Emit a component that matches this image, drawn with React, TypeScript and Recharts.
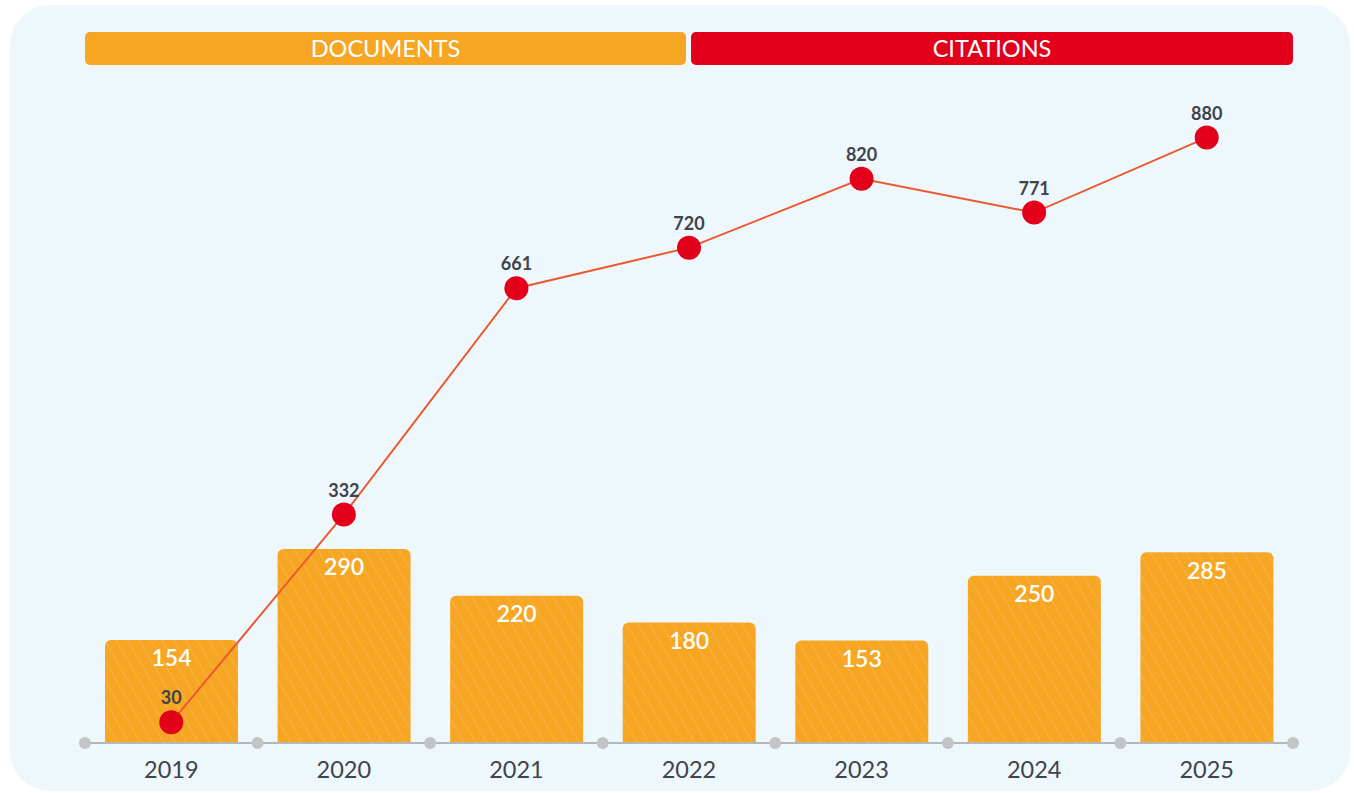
import React from "react";
import {
  ComposedChart,
  Bar,
  Line,
  XAxis,
  YAxis,
  LabelList,
} from "recharts";

const years = ["2019", "2020", "2021", "2022", "2023", "2024", "2025"];
const documents = [154, 290, 220, 180, 153, 250, 285];
const citations = [30, 332, 661, 720, 820, 771, 880];
const headerLabels = ["DOCUMENTS", "CITATIONS"];

const ORANGE = "#F6A623";
const RED = "#E2001A";
const LINE = "#EA5A2E";
const TEXT = "#3E444A";
const FONT = "Lato, 'Open Sans', sans-serif";
const TICK_MARGIN = 18;

const data = years.map((y, i) => ({
  year: y,
  documents: documents[i],
  citations: citations[i],
}));

function YearTick(props: any) {
  const { x, y, payload, index } = props;
  const half = payload && payload.offset ? payload.offset : 0;
  const lineY = y - TICK_MARGIN;
  const last = index === years.length - 1;
  return (
    <g>
      <circle cx={x - half} cy={lineY} r={6} fill="#C2C4C6" />
      {last && <circle cx={x + half} cy={lineY} r={6} fill="#C2C4C6" />}
      <text
        x={x}
        y={y}
        dy="0.71em"
        textAnchor="middle"
        fill={TEXT}
        fontSize={23.5}
        fontFamily={FONT}
      >
        {payload.value}
      </text>
    </g>
  );
}

export default function App() {
  return (
    <div
      style={{
        position: "absolute",
        left: 0,
        top: 0,
        width: 1354,
        height: 793,
        background: "#ffffff",
        overflow: "hidden",
        fontFamily: FONT,
      }}
    >
      <div
        style={{
          position: "absolute",
          left: 10,
          top: 5,
          width: 1340,
          height: 786,
          borderRadius: 40,
          background: "#EEF7FC",
        }}
      />
      <div
        style={{
          position: "absolute",
          left: 85,
          top: 32,
          width: 601,
          height: 33,
          borderRadius: 5,
          background: ORANGE,
          color: "#fff",
          fontSize: 23.5,
          lineHeight: "33px",
          textAlign: "center",
        }}
      >
        {headerLabels[0]}
      </div>
      <div
        style={{
          position: "absolute",
          left: 691,
          top: 32,
          width: 602,
          height: 33,
          borderRadius: 5,
          background: RED,
          color: "#fff",
          fontSize: 23.5,
          lineHeight: "33px",
          textAlign: "center",
        }}
      >
        {headerLabels[1]}
      </div>
      <div style={{ position: "absolute", left: 0, top: 0 }}>
        <ComposedChart
          width={1354}
          height={793}
          data={data}
          margin={{ top: 55, right: 61, bottom: 0, left: 85 }}
        >
          <defs>
            <pattern
              id="hatch"
              patternUnits="userSpaceOnUse"
              width="10"
              height="10"
              patternTransform="rotate(-30)"
            >
              <rect x="0" y="0" width="10" height="10" fill={ORANGE} />
              <line x1="0" y1="0" x2="0" y2="10" stroke="#ffffff" strokeOpacity={0.25} strokeWidth={1.2} />
            </pattern>
          </defs>
          <XAxis
            dataKey="year"
            height={50}
            tickLine={false}
            tickSize={0}
            tickMargin={TICK_MARGIN}
            axisLine={{ stroke: "#B3B8BD", strokeWidth: 2 }}
            tick={<YearTick />}
            interval={0}
          />
          <YAxis yAxisId="bar" domain={[0, 1028]} hide />
          <YAxis yAxisId="line" domain={[0, 1000]} hide />
          <Bar
            dataKey="documents"
            yAxisId="bar"
            barSize={133}
            fill="url(#hatch)"
            radius={[6, 6, 0, 0]}
            isAnimationActive={false}
          >
            <LabelList
              dataKey="documents"
              position="insideTop"
              offset={10}
              fill="#ffffff"
              fontSize={23}
              fontWeight={600}
              fontFamily={FONT}
            />
          </Bar>
          <Line
            dataKey="citations"
            yAxisId="line"
            stroke={LINE}
            strokeWidth={2}
            dot={{ r: 12, fill: RED, stroke: "none" }}
            activeDot={false}
            isAnimationActive={false}
          >
            <LabelList
              dataKey="citations"
              position="top"
              offset={18}
              fill={TEXT}
              fontSize={18}
              fontWeight={700}
              fontFamily={FONT}
            />
          </Line>
        </ComposedChart>
      </div>
    </div>
  );
}
